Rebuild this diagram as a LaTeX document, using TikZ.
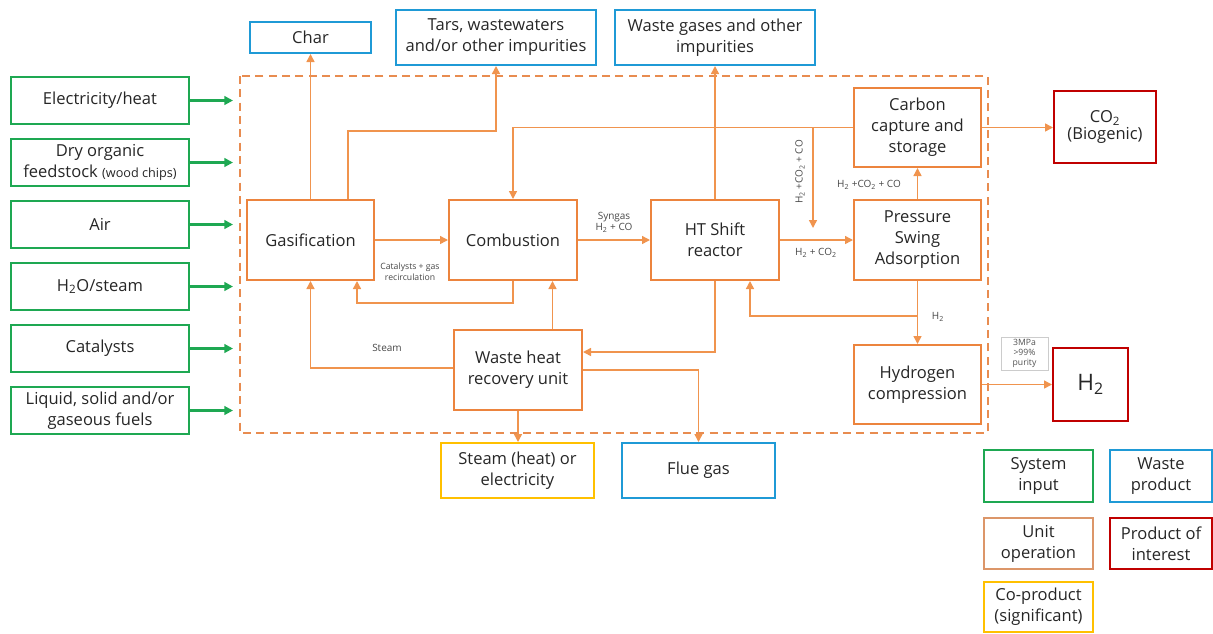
\documentclass[tikz,border=0pt]{standalone}
\usepackage{fontspec}
\setmainfont{Open Sans}
\usetikzlibrary{arrows.meta,calc}
\definecolor{cgreen}{RGB}{30,168,82}
\definecolor{cblue}{RGB}{31,154,214}
\definecolor{corange}{RGB}{236,132,62}
\definecolor{cline}{RGB}{240,148,78}
\definecolor{cred}{RGB}{192,0,0}
\definecolor{cyellow}{RGB}{255,192,0}
\definecolor{clegend}{RGB}{220,150,105}
\definecolor{ctext}{RGB}{38,38,38}
\definecolor{cdash}{RGB}{232,140,80}
\tikzset{
  bx/.style 2 args={draw, rectangle, line width=1.5pt, align=center, text=ctext,
    minimum width={#1*0.75pt}, minimum height={#2*0.75pt}, inner sep=1pt,
    font=\fontsize{12.4}{15.8}\selectfont},
  inbox/.style={draw=cgreen},
  wastebox/.style={draw=cblue},
  unitbox/.style={draw=corange},
  prodbox/.style={draw=cred},
  cobox/.style={draw=cyellow},
  inarrow/.style={draw=cgreen, line width=2.2pt, -{Triangle[length=6.5pt,width=6.5pt]}},
  flow/.style={draw=cline, line width=1.1pt, -{Triangle[length=6pt,width=6pt]}},
  lbl/.style={text=ctext!85, font=\fontsize{7.5}{8.5}\selectfont, align=center, inner sep=0pt},
}
\begin{document}
\begin{tikzpicture}[x=0.75pt,y=-0.75pt]
\useasboundingbox (0,0) rectangle (1213,633);
% system boundary
\draw[cdash, line width=1.5pt, dash pattern=on 6pt off 4pt] (240,76) rectangle (988,433);

% inputs
\node[bx={178}{47}, inbox] (i1) at (100,100.5) {Electricity/heat};
\node[bx={178}{47}, inbox] (i2) at (100,162.5) {Dry organic\\feedstock {\fontsize{9.5}{10}\selectfont(wood chips)}};
\node[bx={178}{47}, inbox] (i3) at (100,224.5) {Air};
\node[bx={178}{47}, inbox] (i4) at (100,286.5) {H\textsubscript{2}O/steam};
\node[bx={178}{47}, inbox] (i5) at (100,348.5) {Catalysts};
\node[bx={178}{47}, inbox] (i6) at (100,410.5) {Liquid, solid and/or\\gaseous fuels};
\foreach \i/\y in {1/100.5,2/162.5,3/224.5,4/286.5,5/348.5,6/410.5}{
  \coordinate (e\i) at (233,\y);
  \draw[inarrow] (i\i.east) -- (e\i);
}

% waste products
\node[bx={121}{31}, wastebox] (char) at (310.5,37.5) {Char};
\node[bx={200}{55}, wastebox] (tars) at (496,37.5) {Tars, wastewaters\\and/or other impurities};
\node[bx={200}{55}, wastebox] (wg) at (715,37.5) {Waste gases and other\\impurities};
\node[bx={153}{55}, wastebox] (flue) at (698.5,470.5) {Flue gas};
\node[bx={153}{55}, cobox] (steam) at (517.5,470.5) {Steam (heat) or\\electricity};

% unit operations
\node[bx={127}{80}, unitbox] (gas) at (310.5,240) {Gasification};
\node[bx={128}{80}, unitbox] (comb) at (513,240) {Combustion};
\node[bx={128}{80}, unitbox] (ht) at (715,240) {HT Shift\\reactor};
\node[bx={127}{80}, unitbox] (psa) at (917.5,240) {Pressure\\Swing\\Adsorption};
\node[bx={127}{79}, unitbox] (ccs) at (917.5,127.5) {Carbon\\capture and\\storage};
\node[bx={127}{79}, unitbox] (hc) at (917.5,384.5) {Hydrogen\\compression};
\node[bx={128}{80}, unitbox] (whru) at (518,370) {Waste heat\\recovery unit};

% products
\node[bx={102}{72}, prodbox] (co2) at (1105,127) {CO\textsubscript{2}\\[-3pt](Biogenic)};
\node[bx={75}{73}, prodbox, font=\fontsize{17}{19}\selectfont] (h2) at (1090.5,384.5) {H\textsubscript{2}};
\node[draw=black!20, line width=0.5pt, minimum width={47*0.75pt}, minimum height={33*0.75pt},
  inner sep=0pt, align=center, text=ctext!80, font=\fontsize{6.5}{7.5}\selectfont] (spec) at (1024.5,353.5) {3MPa\\>99\%\\purity};

% connectors
\draw[flow] (gas.north) -- (char.south);
\draw[flow] ($(gas.north)+(37.5,0)$) -- ++(0,-68) -| (tars.south);
\draw[flow] (ccs.west) -| (comb.north);
\coordinate (j1) at (813,127.5);
\coordinate (j1e) at (813,228);
\draw[flow] (j1) -- (j1e);
\draw[flow] (ccs.east) -- (ccs.east -| co2.west);
\draw[flow] (ht.north) -- (wg.south);
\draw[flow] (gas.east) -- (comb.west);
\draw[flow] (comb.east) -- (ht.west);
\draw[flow] (ht.east) -- (psa.west);
\draw[flow] (psa.north) -- (ccs.south);
\draw[flow] (psa.south) -- (hc.north);
\coordinate (j2) at (917.5,316);
\draw[flow] (j2) -| ($(ht.south)+(35,0)$);
\draw[flow] (comb.south) -- ++(0,22) -| ($(gas.south)+(46.5,0)$);
\draw[flow] ($(whru.north)+(34.5,0)$) -- ($(comb.south)+(39.5,0)$);
\draw[flow] (ht.south) |- ($(whru.east)+(0,-18)$);
\draw[flow] ($(whru.west)+(0,-2)$) -| (gas.south);
\draw[flow] (whru.east) -| (flue.north);
\draw[flow] (whru.south) -- (whru.south |- steam.north);
\draw[flow] (hc.east) -- (h2.west);

% labels
\node[lbl] (l1) at (614,222) {Syngas\\H\textsubscript{2} + CO};
\node[lbl, font=\fontsize{6.5}{8}\selectfont] (l2) at (410,272) {Catalysts + gas\\recirculation};
\node[lbl] (l3) at (816,253) {H\textsubscript{2} + CO\textsubscript{2}};
\node[lbl] (l4) at (869,185) {H\textsubscript{2} +CO\textsubscript{2} + CO};
\node[lbl, rotate=90] (l5) at (800,172) {H\textsubscript{2} +CO\textsubscript{2} + CO};
\node[lbl] (l6) at (938,317) {H\textsubscript{2}};
\node[lbl] (l7) at (387,348) {Steam};

% legend
\node[bx={109}{52}, inbox] (lg1) at (1038.5,476) {System\\input};
\node[bx={102}{52}, wastebox] (lg2) at (1161,476) {Waste\\product};
\node[bx={109}{51}, draw=clegend] (lg3) at (1038.5,543.5) {Unit\\operation};
\node[bx={102}{51}, prodbox] (lg4) at (1161,543.5) {Product of\\interest};
\node[bx={109}{50}, cobox] (lg5) at (1038.5,607) {Co-product\\(significant)};
\end{tikzpicture}
\end{document}
